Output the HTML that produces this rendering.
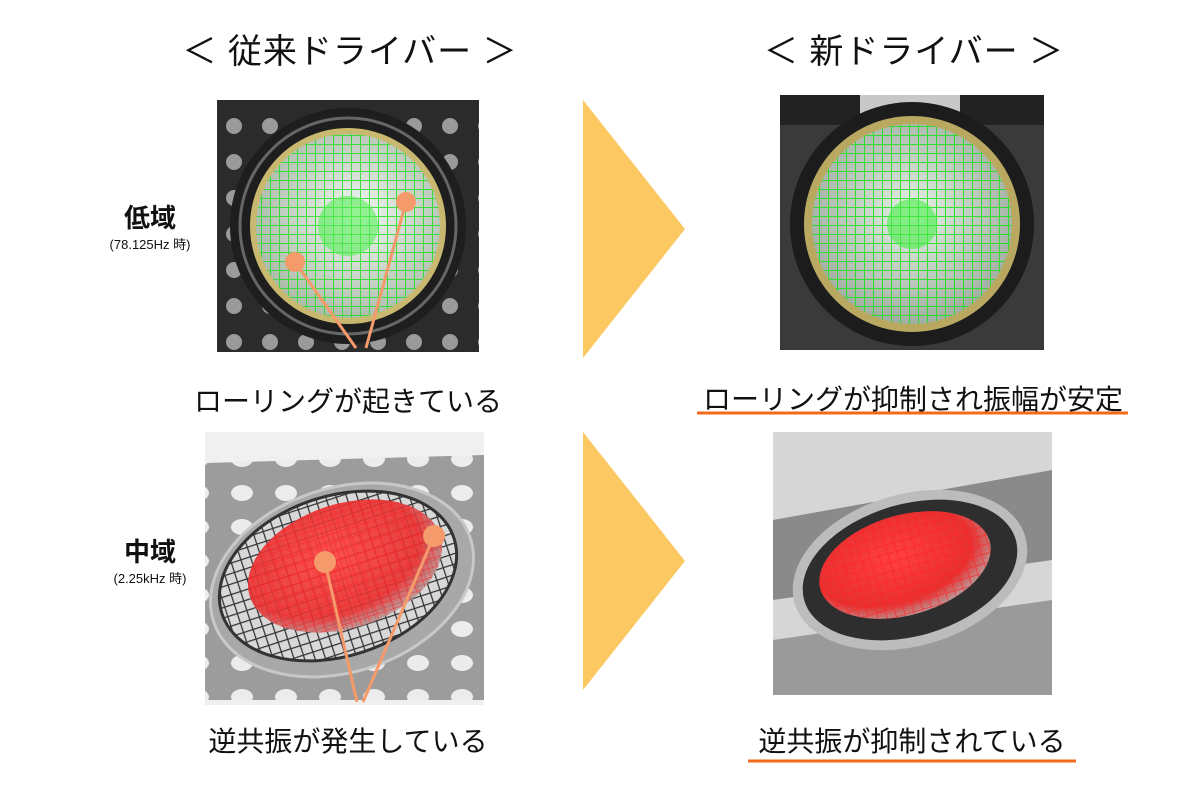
<!DOCTYPE html>
<html><head><meta charset="utf-8"><style>
html,body{margin:0;padding:0;background:#fff;}
body{width:1200px;height:800px;overflow:hidden;position:relative;font-family:"Liberation Sans","Noto Sans CJK JP",sans-serif;color:#111;}
.t{position:absolute;white-space:nowrap;transform:translateX(-50%);}
</style></head><body>
<svg width="1200" height="800" style="position:absolute;left:0;top:0">
<defs>
<radialGradient id="g1" cx="0.55" cy="0.45" r="0.6"><stop offset="0" stop-color="#f4f8f4"/><stop offset="1" stop-color="#a8b8a8"/></radialGradient>
<radialGradient id="g2" cx="0.5" cy="0.45" r="0.6"><stop offset="0" stop-color="#e8f2e8"/><stop offset="1" stop-color="#9aa89a"/></radialGradient>
<radialGradient id="r1" cx="0.45" cy="0.4" r="0.65"><stop offset="0" stop-color="#ff4040"/><stop offset="0.7" stop-color="#e83030"/><stop offset="1" stop-color="#b0b0b0"/></radialGradient>
<pattern id="holesD" width="36" height="36" patternUnits="userSpaceOnUse"><rect width="36" height="36" fill="#2b2b2b"/><circle cx="18" cy="18" r="8" fill="#9a9a9a"/></pattern>
<pattern id="holesL" width="44" height="34" patternUnits="userSpaceOnUse"><rect width="44" height="34" fill="#9c9c9c"/><ellipse cx="22" cy="17" rx="11" ry="8" fill="#ececec"/></pattern>
<pattern id="grid" width="9" height="9" patternUnits="userSpaceOnUse"><path d="M0 0H9M0 0V9" stroke="#22dd22" stroke-width="2" fill="none"/></pattern>
<pattern id="gridR" width="9" height="9" patternUnits="userSpaceOnUse"><path d="M0 0H9M0 0V9" stroke="#ff2020" stroke-width="2" fill="none"/></pattern>
<pattern id="gridK" width="10" height="10" patternUnits="userSpaceOnUse"><path d="M0 0H10M0 0V10" stroke="#333" stroke-width="2.5" fill="none"/></pattern>
</defs>

<!-- top-left photo -->
<rect x="217" y="100" width="262" height="252" fill="url(#holesD)"/>
<circle cx="348" cy="226" r="118" fill="#1e1e1e"/>
<circle cx="348" cy="226" r="108" fill="none" stroke="#666" stroke-width="3"/>
<circle cx="348" cy="226" r="98" fill="#c8b870"/>
<circle cx="348" cy="226" r="92" fill="url(#g1)"/>
<circle cx="348" cy="226" r="92" fill="url(#grid)" opacity="0.85"/>
<circle cx="348" cy="226" r="30" fill="#55ee55" opacity="0.6"/>

<!-- top-right photo -->
<rect x="780" y="95" width="264" height="255" fill="#3a3a3a"/>
<rect x="780" y="95" width="264" height="30" fill="#222"/>
<rect x="860" y="95" width="100" height="20" fill="#c8c8c8"/>
<circle cx="912" cy="224" r="122" fill="#1c1c1c"/>
<circle cx="912" cy="224" r="108" fill="#b8a860"/>
<circle cx="912" cy="224" r="100" fill="url(#g2)"/>
<circle cx="912" cy="224" r="100" fill="url(#grid)" opacity="0.9"/>
<circle cx="912" cy="224" r="25" fill="#44ee44" opacity="0.6"/>

<!-- bottom-left photo -->
<rect x="205" y="432" width="279" height="273" fill="#f0f0f0"/>
<polygon points="205,463 484,455 484,700 205,700" fill="url(#holesL)"/>
<ellipse cx="342" cy="580" rx="135" ry="92" transform="rotate(-18 342 580)" fill="#a8a8a8" stroke="#c8c8c8" stroke-width="3"/>
<ellipse cx="338" cy="576" rx="122" ry="80" transform="rotate(-18 338 576)" fill="#d8d8d8"/>
<ellipse cx="338" cy="576" rx="122" ry="80" transform="rotate(-18 338 576)" fill="url(#gridK)" stroke="#333" stroke-width="3"/>
<ellipse cx="345" cy="566" rx="100" ry="62" transform="rotate(-18 345 566)" fill="url(#r1)" opacity="0.9"/>
<ellipse cx="345" cy="566" rx="100" ry="62" transform="rotate(-18 345 566)" fill="url(#gridR)" opacity="0.5"/>

<!-- bottom-right photo -->
<rect x="773" y="432" width="279" height="263" fill="#d6d6d6"/>
<polygon points="773,520 1052,470 1052,560 773,600" fill="#8a8a8a"/>
<polygon points="773,640 1052,600 1052,695 773,695" fill="#9a9a9a"/>
<ellipse cx="910" cy="570" rx="120" ry="76" transform="rotate(-16 910 570)" fill="#bcbcbc"/>
<ellipse cx="910" cy="570" rx="110" ry="66" transform="rotate(-16 910 570)" fill="#2e2e2e"/>
<ellipse cx="905" cy="565" rx="88" ry="50" transform="rotate(-16 905 565)" fill="url(#r1)"/>
<ellipse cx="905" cy="565" rx="88" ry="50" transform="rotate(-16 905 565)" fill="url(#gridR)" opacity="0.6"/>

<!-- arrows -->
<polygon points="583,100 685,229 583,358" fill="#fbc862"/>
<polygon points="583,432 685,561 583,690" fill="#fbc862"/>

<!-- orange markers -->
<g stroke="#f59a6a" stroke-width="3" fill="#f59a6a">
<line x1="406" y1="202" x2="366" y2="348"/>
<line x1="295" y1="262" x2="356" y2="348"/>
<circle cx="406" cy="202" r="10" stroke="none"/>
<circle cx="295" cy="262" r="10" stroke="none"/>
<line x1="434" y1="536" x2="363" y2="702"/>
<line x1="325" y1="562" x2="357" y2="702"/>
<circle cx="434" cy="536" r="11" stroke="none"/>
<circle cx="325" cy="562" r="11" stroke="none"/>
</g>

<!-- underlines -->
<line x1="697" y1="413" x2="1128" y2="413" stroke="#f26a1b" stroke-width="3"/>
<line x1="748" y1="761" x2="1076" y2="761" stroke="#f26a1b" stroke-width="3"/>
</svg>

<div class="t" style="left:350px;top:24px;font-size:34px;letter-spacing:1px;">＜ 従来ドライバー ＞</div>
<div class="t" style="left:914px;top:24px;font-size:34px;letter-spacing:1px;">＜ 新ドライバー ＞</div>

<div class="t" style="left:150px;top:198px;font-size:26px;font-weight:bold;">低域</div>
<div class="t" style="left:150px;top:234px;font-size:13px;">(78.125Hz 時)</div>
<div class="t" style="left:150px;top:532px;font-size:26px;font-weight:bold;">中域</div>
<div class="t" style="left:150px;top:568px;font-size:13px;">(2.25kHz 時)</div>

<div class="t" style="left:348px;top:380px;font-size:28px;">ローリングが起きている</div>
<div class="t" style="left:913px;top:378px;font-size:28px;">ローリングが抑制され振幅が安定</div>
<div class="t" style="left:348px;top:720px;font-size:28px;">逆共振が発生している</div>
<div class="t" style="left:912px;top:720px;font-size:28px;">逆共振が抑制されている</div>
</body></html>
